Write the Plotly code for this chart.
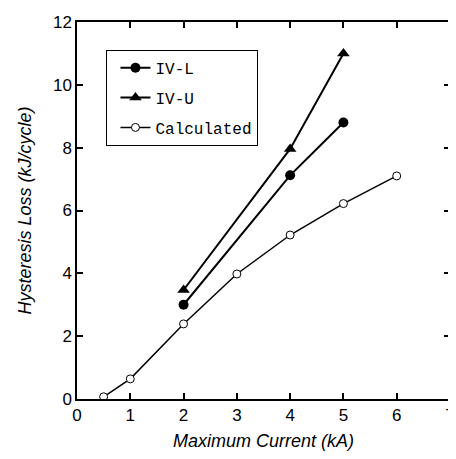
import plotly.graph_objects as go

calc_x = [0.5, 1, 2, 3, 4, 5, 6]
calc_y = [0.07, 0.64, 2.39, 3.98, 5.22, 6.22, 7.1]
ivl_x = [2, 4, 5]
ivl_y = [3.0, 7.12, 8.8]
ivu_x = [2, 4, 5]
ivu_y = [3.47, 7.96, 11.0]

fig = go.Figure()
fig.add_trace(go.Scatter(x=ivl_x, y=ivl_y, name="IV-L", mode="lines+markers", legendgroup="a",
                         line=dict(color="black", width=2),
                         marker=dict(symbol="circle", size=10, color="black")))
fig.add_trace(go.Scatter(x=ivu_x, y=ivu_y, name="IV-U", mode="lines+markers", legendgroup="b",
                         line=dict(color="black", width=2),
                         marker=dict(symbol="triangle-up", size=11, color="black")))
fig.add_trace(go.Scatter(x=calc_x, y=calc_y, name="Calculated", mode="lines+markers", legendgroup="c",
                         line=dict(color="black", width=1.5),
                         marker=dict(symbol="circle", size=8, color="white",
                                     line=dict(color="black", width=1))))

axis_common = dict(showline=True, linecolor="black", linewidth=1.5, mirror="ticks",
                   ticks="inside", ticklen=6, tickcolor="black", tickwidth=1.5,
                   showgrid=False, zeroline=False,
                   tickfont=dict(family="Liberation Sans, Arial", size=17, color="black"))

fig.update_layout(
    width=448, height=451,
    margin=dict(l=69, r=1, t=14, b=60),
    paper_bgcolor="white", plot_bgcolor="white",
    xaxis=dict(range=[0, 7], dtick=1, ticklabeloverflow="allow",
               title=dict(text="<i>Maximum Current (kA)</i>", standoff=10,
                          font=dict(family="Liberation Sans, Arial", size=18, color="black")),
               **axis_common),
    yaxis=dict(range=[0, 12], dtick=2,
               title=dict(text="<i>Hysteresis Loss (kJ/cycle)</i>", standoff=17,
                          font=dict(family="Liberation Sans, Arial", size=18, color="black")),
               **axis_common),
    legend=dict(x=0.079, y=0.926, xanchor="left", yanchor="top",
                bordercolor="black", borderwidth=1, bgcolor="white",
                font=dict(family="Liberation Mono, DejaVu Sans Mono", size=16, color="black"),
                itemwidth=30, tracegroupgap=6, indentation=8),
    showlegend=True,
)

fig.write_html("out.html")
